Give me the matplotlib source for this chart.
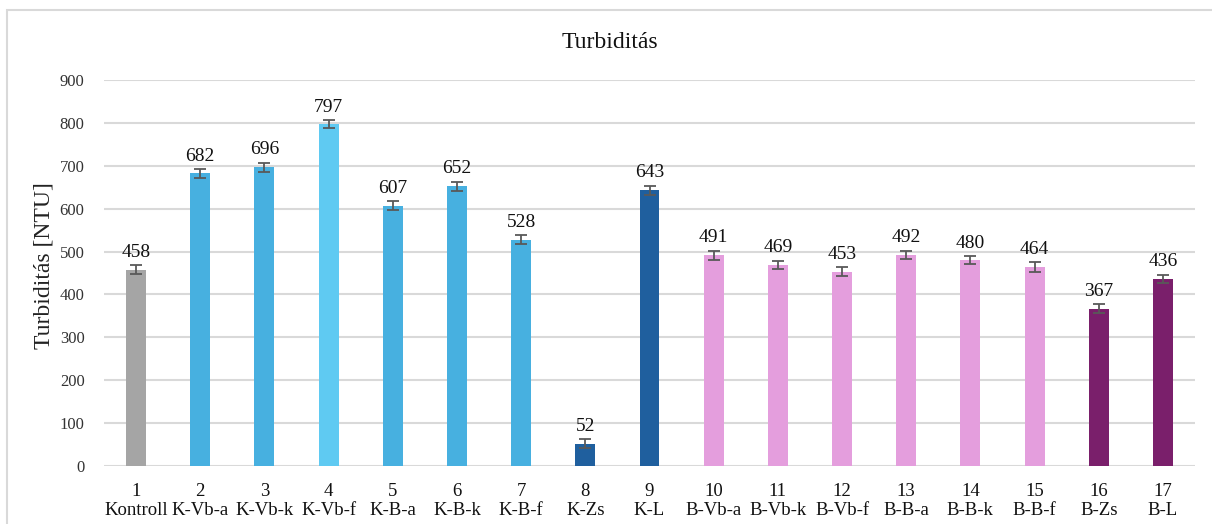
import matplotlib.pyplot as plt
from matplotlib.patches import Rectangle

# Data
numbers = ["1", "2", "3", "4", "5", "6", "7", "8", "9", "10", "11", "12", "13", "14", "15", "16", "17"]
names = ["Kontroll", "K-Vb-a", "K-Vb-k", "K-Vb-f", "K-B-a", "K-B-k", "K-B-f", "K-Zs", "K-L",
         "B-Vb-a", "B-Vb-k", "B-Vb-f", "B-B-a", "B-B-k", "B-B-f", "B-Zs", "B-L"]
values = [458, 682, 696, 797, 607, 652, 528, 52, 643, 491, 469, 453, 492, 480, 464, 367, 436]
errors = [10, 10, 11, 9, 11, 11, 10, 11, 11, 11, 10, 11, 10, 10, 11, 10, 10]
colors = ["#A5A5A5", "#47B0E0", "#47B0E0", "#5FCAF2", "#47B0E0", "#47B0E0", "#47B0E0",
          "#1F5F9E", "#1F5F9E", "#E49EDD", "#E49EDD", "#E49EDD", "#E49EDD", "#E49EDD",
          "#E49EDD", "#7A1F6B", "#7A1F6B"]

plt.rcParams['font.family'] = ['Liberation Serif', 'DejaVu Serif']

fig = plt.figure(figsize=(12.12, 5.24), dpi=100)
ax = fig.add_axes([104 / 1212, 1 - 466 / 524, (1195 - 104) / 1212, (466 - 80) / 524])

x = list(range(len(values)))
ax.bar(x, values, width=0.31, color=colors, zorder=2)
ax.errorbar(x, values, yerr=errors, fmt='none', ecolor="#595959", elinewidth=1.3,
            capsize=4, capthick=1.3, zorder=3)

# value labels above error bars
for xi, v, e in zip(x, values, errors):
    ax.annotate(str(v), (xi, v + e), xytext=(0, 6), textcoords='offset points',
                ha='center', va='baseline', fontsize=14, color="#111111")

ax.set_ylim(0, 900)
ax.set_xlim(-0.5, len(values) - 0.5)
ax.set_yticks(range(0, 901, 100))
ax.set_xticks(x)
ax.set_xticklabels([n + "\n" + m for n, m in zip(numbers, names)], fontsize=13.5)
ax.tick_params(axis='y', labelsize=12, length=0, pad=14, colors="#333333")
ax.tick_params(axis='x', length=0, pad=12, colors="#111111")
ax.yaxis.grid(True, color="#D9D9D9", linewidth=1.5, zorder=0)
ax.set_axisbelow(True)
for s in ax.spines.values():
    s.set_visible(False)

ax.set_ylabel("Turbiditás [NTU]", fontsize=17, color="#222222")
ax.yaxis.set_label_coords(-0.045, 0.52)
fig.text(0.503, 1 - 42 / 524, "Turbiditás", ha='center', va='center', fontsize=17, color="#111111")

# chart area border
fig.patches.append(Rectangle((7 / 1212, -0.1), 1.2, 1.1 - 10 / 524, transform=fig.transFigure,
                             fill=False, edgecolor="#D9D9D9", linewidth=1.5))

fig.savefig("out.png", dpi=100)
